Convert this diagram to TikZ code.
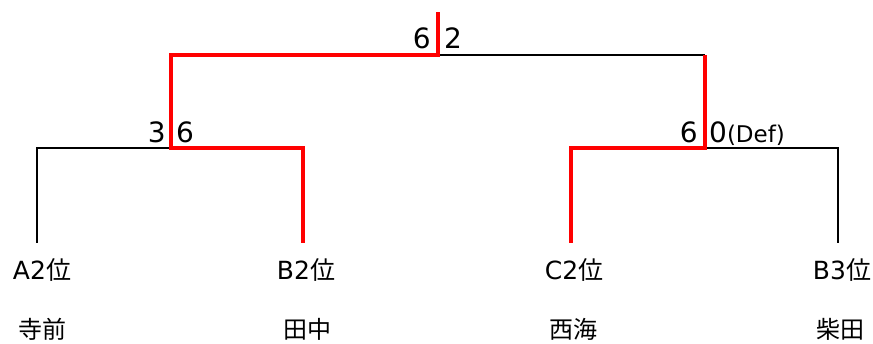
\documentclass[tikz,border=0pt]{standalone}
\usepackage{fontspec}
\setmainfont{DejaVu Sans}
\newfontfamily\cjk{Noto Sans CJK JP}
\begin{document}
\begin{tikzpicture}[x=1pt,y=-1pt,
  win/.style={draw=red,line width=4.6pt,line join=miter},
  lose/.style={draw=black,line width=2pt,line join=miter},
  team/.style={font=\fontsize{25}{25}\selectfont,inner sep=0pt},
  pname/.style={font=\fontsize{24}{24}\selectfont\cjk,inner sep=0pt},
  score/.style={font=\fontsize{28}{28}\selectfont,inner sep=0pt}]
\useasboundingbox (0,0) rectangle (873,343);
% coordinates
\coordinate (top) at (438,12);
\coordinate (F) at (438,55);
\coordinate (FL) at (171,55);
\coordinate (FR) at (705,55);
\coordinate (S1) at (171,148);
\coordinate (S2) at (705,148);
\coordinate (a) at (37,148);
\coordinate (b) at (303,148);
\coordinate (c) at (571,148);
\coordinate (d) at (838,148);
% team labels
\node[team,anchor=base] (ta) at (42,279) {A2{\cjk 位}};
\node[team,anchor=base] (tb) at (306,279) {B2{\cjk 位}};
\node[team,anchor=base] (tc) at (574,279) {C2{\cjk 位}};
\node[team,anchor=base] (td) at (842,279) {B3{\cjk 位}};
\node[pname] (na) at (42,329) {寺前};
\node[pname] (nb) at (307,329) {田中};
\node[pname] (nc) at (573,329) {西海};
\node[pname] (nd) at (840,329) {柴田};
% black lines
\draw[lose] (F) -- (FR);
\draw[lose] (S1) -- (a) -- (a |- 0,243);
\draw[lose] (S2) -- (d) -- (d |- 0,243);
% red lines
\draw[win] (top) -- (F) -- (FL) -- (S1) -- (b) -- (b |- 0,243);
\draw[win] (FR) -- (S2) -- (c) -- (c |- 0,243);
% scores
\node[score,anchor=base east] (s1) at (431,48) {6};
\node[score,anchor=base west] (s2) at (444,48) {2};
\node[score,anchor=base east] (s3) at (166,142) {3};
\node[score,anchor=base west] (s4) at (176,142) {6};
\node[score,anchor=base east] (s5) at (698,142) {6};
\node[score,anchor=base west] (s6) at (709,142) {0\fontsize{23}{23}\selectfont(Def)};
\end{tikzpicture}
\end{document}
